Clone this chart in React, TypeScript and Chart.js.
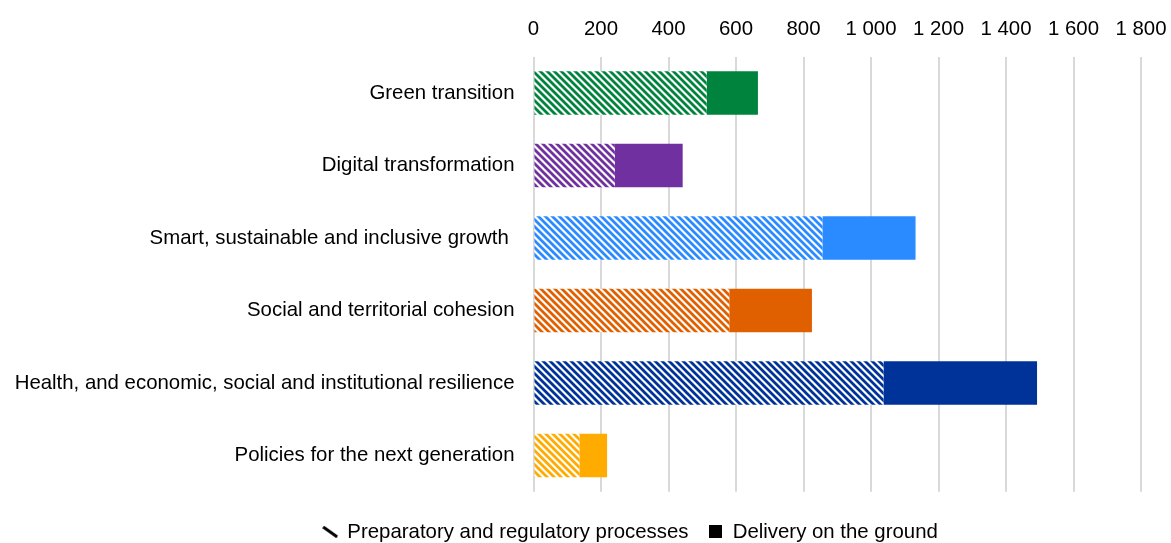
import React, { useEffect, useRef } from "react";
import { Chart, registerables } from "chart.js";

Chart.register(...registerables);

const categories = [
  "Green transition",
  "Digital transformation",
  "Smart, sustainable and inclusive growth ",
  "Social and territorial cohesion",
  "Health, and economic, social and institutional resilience",
  "Policies for the next generation",
];
const preparatory = [513, 241, 856, 580, 1037, 136];
const delivery = [152, 201, 276, 245, 455, 82];
const colors = ["#00843D", "#7030A0", "#2A8AFF", "#E06000", "#003399", "#FFAB00"];
const seriesNames = ["Preparatory and regulatory processes", "Delivery on the ground"];
const xMin = 0;
const xMax = 1800;
const xStep = 200;

function makePattern(color: string): CanvasPattern | string {
  const s = 7;
  const c = document.createElement("canvas");
  c.width = s;
  c.height = s;
  const ctx = c.getContext("2d");
  if (!ctx) return color;
  ctx.fillStyle = "#ffffff";
  ctx.fillRect(0, 0, s, s);
  ctx.strokeStyle = color;
  ctx.lineWidth = 2.8;
  ctx.beginPath();
  ctx.moveTo(-s, -s);
  ctx.lineTo(2 * s, 2 * s);
  ctx.moveTo(-2 * s, -s);
  ctx.lineTo(s, 2 * s);
  ctx.moveTo(0, -s);
  ctx.lineTo(3 * s, 2 * s);
  ctx.stroke();
  const p = ctx.createPattern(c, "repeat");
  return p || color;
}

function hatchIcon(): HTMLCanvasElement {
  const c = document.createElement("canvas");
  c.width = 16;
  c.height = 12;
  const ctx = c.getContext("2d")!;
  ctx.strokeStyle = "#000";
  ctx.lineWidth = 3;
  ctx.lineCap = "butt";
  ctx.beginPath();
  ctx.moveTo(1, 1);
  ctx.lineTo(15, 11);
  ctx.stroke();
  return c;
}

function squareIcon(): HTMLCanvasElement {
  const c = document.createElement("canvas");
  c.width = 13;
  c.height = 13;
  const ctx = c.getContext("2d")!;
  ctx.fillStyle = "#000";
  ctx.fillRect(0, 0, 13, 13);
  return c;
}

const fmt = (v: number) => {
  const s = String(Math.round(v));
  return s.replace(/\B(?=(\d{3})+(?!\d))/g, " ");
};

const legendHeightPlugin = {
  id: "legendHeight",
  beforeLayout(chart: any) {
    const lg = chart.legend;
    if (lg && !lg._patched) {
      const f = lg.fit.bind(lg);
      lg.fit = function () {
        f();
        this.height = 51.3;
      };
      lg._patched = true;
    }
  },
  afterLayout(chart: any) {
    const lg = chart.legend;
    if (lg) {
      lg.left += 54;
      lg.right += 54;
    }
  },
};

export default function App() {
  const ref = useRef<HTMLCanvasElement | null>(null);
  useEffect(() => {
    if (!ref.current) return;
    const font = { family: "'Liberation Sans', Arial, sans-serif", size: 20.4 };
    const icons = [hatchIcon(), squareIcon()];
    const chart = new Chart(ref.current, {
      type: "bar",
      plugins: [legendHeightPlugin],
      data: {
        labels: categories,
        datasets: [
          {
            label: seriesNames[0],
            data: preparatory,
            backgroundColor: colors.map((c) => makePattern(c)) as any,
            borderWidth: 0,
            barPercentage: 0.6,
            categoryPercentage: 1,
          },
          {
            label: seriesNames[1],
            data: delivery,
            backgroundColor: colors,
            borderWidth: 0,
            barPercentage: 0.6,
            categoryPercentage: 1,
          },
        ],
      },
      options: {
        indexAxis: "y",
        responsive: false,
        animation: false,
        maintainAspectRatio: false,
        layout: { padding: { left: 12, right: 30, top: 0, bottom: 0 } },
        scales: {
          x: {
            position: "top",
            stacked: true,
            min: xMin,
            max: xMax,
            border: { display: false },
            grid: { color: "#d9d9d9", lineWidth: 2, drawTicks: false },
            ticks: {
              stepSize: xStep,
              color: "#000",
              font,
              padding: 15,
              callback: (v: any) => fmt(Number(v)),
            },
            afterFit: (scale: any) => {
              scale.height = 56.7;
              scale.paddingLeft = 0;
              scale.paddingRight = 0;
            },
          },
          y: {
            stacked: true,
            border: { display: false },
            grid: { display: false, drawTicks: false },
            ticks: { color: "#000", font, padding: 19 },
            afterFit: (scale: any) => {
              scale.width = 521.5;
              scale.paddingTop = 0;
              scale.paddingBottom = 0;
            },
          },
        },
        plugins: {
          tooltip: { enabled: false },
          legend: {
            position: "bottom",
            title: { display: true, text: " ", padding: 0, font: { size: 10, lineHeight: 1 } },
            labels: {
              color: "#000",
              font,
              usePointStyle: true,
              boxWidth: 14,
              boxHeight: 14,
              padding: 20,
              generateLabels: () =>
                seriesNames.map((name, i) => ({
                  text: name,
                  pointStyle: icons[i] as any,
                  fillStyle: "#000",
                  strokeStyle: "#000",
                  fontColor: "#000",
                  lineWidth: 0,
                  hidden: false,
                  datasetIndex: i,
                })),
            },
          },
        },
      },
    });
    return () => chart.destroy();
  }, []);
  return (
    <div style={{ position: "fixed", left: 0, top: 0, width: 1171, height: 543, background: "#fff" }}>
      <canvas ref={ref} width={1171} height={543} style={{ width: 1171, height: 543 }} />
    </div>
  );
}
